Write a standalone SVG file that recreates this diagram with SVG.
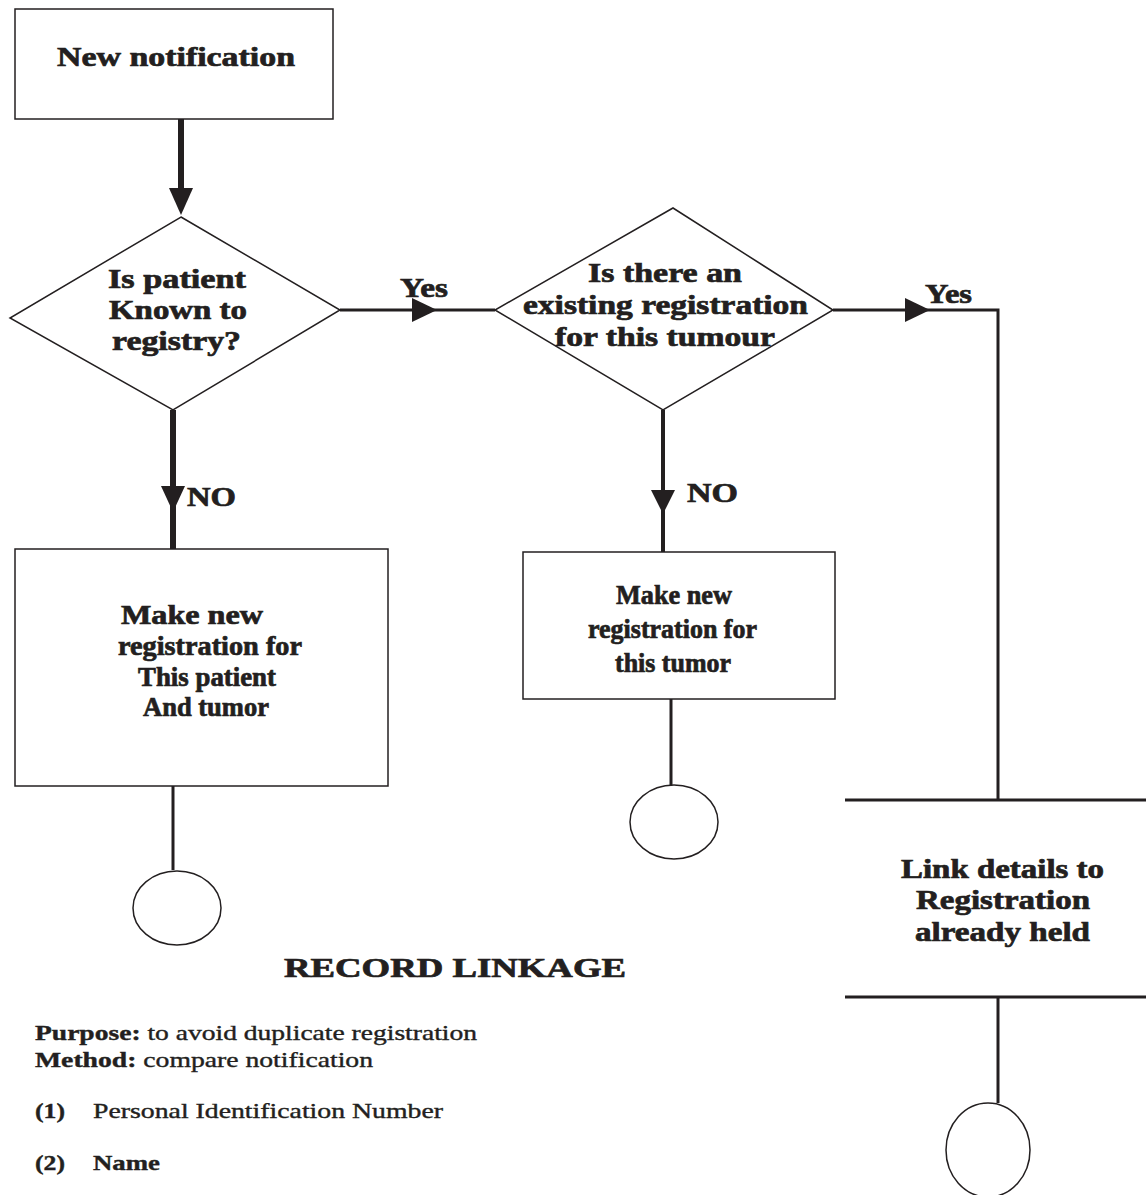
<svg xmlns="http://www.w3.org/2000/svg" width="1146" height="1195" viewBox="0 0 1146 1195">
<style>
.shape{fill:#fff;stroke:#231f20;stroke-width:1.5}
.t{font-family:"Liberation Serif","Times New Roman",serif;font-weight:bold;fill:#231f20;stroke:#231f20;stroke-width:0.7;font-size:27px}
.c{stroke:#231f20;fill:none}
.ah{fill:#231f20}
.s{font-family:"Liberation Serif","Times New Roman",serif;font-size:22px;fill:#231f20;stroke:#231f20;stroke-width:0.4;font-weight:bold}
.n{font-weight:normal}
</style>
<rect width="1146" height="1195" fill="#fff"/>
<g id="connectors">
<line class="c" x1="181" y1="119" x2="181" y2="195" stroke-width="6"/>
<polygon class="ah" points="169,188 193,188 181,215"/>
<line class="c" x1="340" y1="310" x2="495" y2="310" stroke-width="3"/>
<polygon class="ah" points="412,298 412,322 437,310"/>
<line class="c" x1="173" y1="410" x2="173" y2="549" stroke-width="6"/>
<polygon class="ah" points="161,486 185,486 173,512"/>
<line class="c" x1="663" y1="410" x2="663" y2="552" stroke-width="4"/>
<polygon class="ah" points="651,490 675,490 663,514"/>
<polyline class="c" points="833,310 998,310 998,800" stroke-width="3"/>
<polygon class="ah" points="905,298 905,322 930,310"/>
<line class="c" x1="173" y1="786" x2="173" y2="870" stroke-width="3"/>
<line class="c" x1="671" y1="699" x2="671" y2="785" stroke-width="3"/>
<line class="c" x1="998" y1="997" x2="998" y2="1103" stroke-width="3"/>
</g>
<g id="labels">
<text class="t" x="400" y="297" font-size="25" textLength="48" lengthAdjust="spacingAndGlyphs">Yes</text>
<text class="t" x="925" y="303" font-size="25" textLength="47" lengthAdjust="spacingAndGlyphs">Yes</text>
<text class="t" x="187" y="506" textLength="49" lengthAdjust="spacingAndGlyphs">NO</text>
<text class="t" x="687" y="502" textLength="51" lengthAdjust="spacingAndGlyphs">NO</text>
</g>
<g id="n1">
<rect class="shape" x="15" y="9" width="318" height="110"/>
<text class="t" x="57" y="66" textLength="238" lengthAdjust="spacingAndGlyphs">New notification</text>
</g>
<g id="d1">
<polygon class="shape" points="181,217 340,310 173,410 10,318"/>
<text class="t" x="108" y="288" textLength="138" lengthAdjust="spacingAndGlyphs">Is patient</text>
<text class="t" x="109" y="319" textLength="138" lengthAdjust="spacingAndGlyphs">Known to</text>
<text class="t" x="112" y="350" textLength="129" lengthAdjust="spacingAndGlyphs">registry?</text>
</g>
<g id="d2">
<polygon class="shape" points="673,208 833,310 663,410 495,310"/>
<text class="t" x="588" y="282" textLength="154" lengthAdjust="spacingAndGlyphs">Is there an</text>
<text class="t" x="523" y="314" textLength="285" lengthAdjust="spacingAndGlyphs">existing registration</text>
<text class="t" x="555" y="346" textLength="220" lengthAdjust="spacingAndGlyphs">for this tumour</text>
</g>
<g id="b2">
<rect class="shape" x="15" y="549" width="373" height="237"/>
<text class="t" x="121" y="624" textLength="142" lengthAdjust="spacingAndGlyphs">Make new</text>
<text class="t" x="118" y="655" textLength="184" lengthAdjust="spacingAndGlyphs">registration for</text>
<text class="t" x="138" y="686" textLength="138" lengthAdjust="spacingAndGlyphs">This patient</text>
<text class="t" x="143" y="716" textLength="126" lengthAdjust="spacingAndGlyphs">And tumor</text>
</g>
<g id="b3">
<rect class="shape" x="523" y="552" width="312" height="147"/>
<text class="t" x="616" y="604" textLength="116" lengthAdjust="spacingAndGlyphs">Make new</text>
<text class="t" x="588" y="638" textLength="169" lengthAdjust="spacingAndGlyphs">registration for</text>
<text class="t" x="615" y="672" textLength="116" lengthAdjust="spacingAndGlyphs">this tumor</text>
</g>
<g id="b4">
<line class="c" x1="845" y1="800" x2="1146" y2="800" stroke-width="3"/>
<line class="c" x1="845" y1="997" x2="1146" y2="997" stroke-width="3"/>
<text class="t" x="901" y="878" textLength="203" lengthAdjust="spacingAndGlyphs">Link details to</text>
<text class="t" x="916" y="909" textLength="174" lengthAdjust="spacingAndGlyphs">Registration</text>
<text class="t" x="915" y="941" textLength="175" lengthAdjust="spacingAndGlyphs">already held</text>
</g>
<g id="e1"><ellipse class="shape" cx="177" cy="908" rx="44" ry="37"/></g>
<g id="e2"><ellipse class="shape" cx="674" cy="822" rx="44" ry="37"/></g>
<g id="e3"><ellipse class="shape" cx="988" cy="1150" rx="42" ry="47"/></g>
<g id="notes">
<text class="t" x="284" y="977" font-size="31" textLength="342" lengthAdjust="spacingAndGlyphs">RECORD LINKAGE</text>
<text class="s" x="35" y="1040" textLength="442" lengthAdjust="spacingAndGlyphs">Purpose:<tspan class="n"> to avoid duplicate registration</tspan></text>
<text class="s" x="35" y="1067" textLength="338" lengthAdjust="spacingAndGlyphs">Method:<tspan class="n"> compare notification</tspan></text>
<text class="s" x="35" y="1118" textLength="30" lengthAdjust="spacingAndGlyphs">(1)</text>
<text class="s n" x="93" y="1118" textLength="350" lengthAdjust="spacingAndGlyphs">Personal Identification Number</text>
<text class="s" x="35" y="1170" textLength="30" lengthAdjust="spacingAndGlyphs">(2)</text>
<text class="s" x="93" y="1170" textLength="67" lengthAdjust="spacingAndGlyphs">Name</text>
</g>
</svg>
